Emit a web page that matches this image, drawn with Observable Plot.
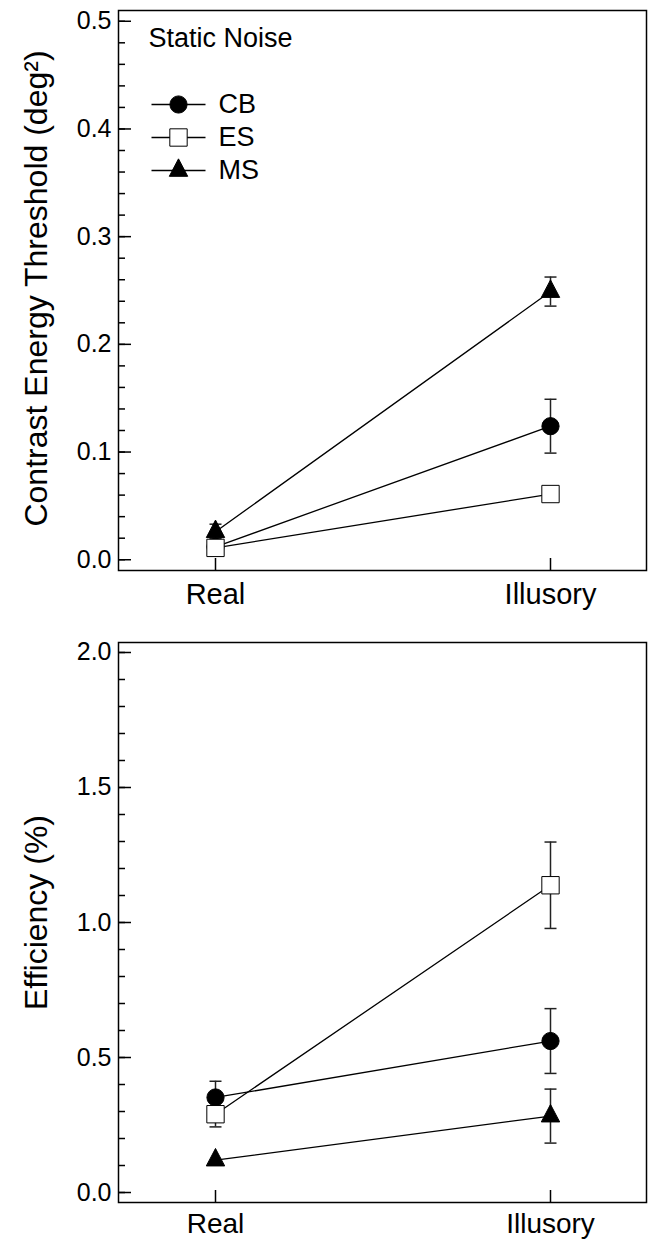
<!DOCTYPE html>
<html>
<head>
<meta charset="utf-8">
<script src="https://cdn.jsdelivr.net/npm/d3@7"></script>
<script src="https://cdn.jsdelivr.net/npm/@observablehq/plot@0.6"></script>
<style>
  html, body { margin: 0; padding: 0; background: #fff; }
  #chart { width: 649px; }
  #chart svg { display: block; }
</style>
</head>
<body>
<div id="chart"></div>
<script>
// ---------- data ----------
const conditions = ["Real", "Illusory"];
const subjects = ["CB", "ES", "MS"];

// Top panel: contrast energy threshold (deg^2), static noise
const thresholdCB = [0.012, 0.124];
const thresholdES = [0.011, 0.061];
const thresholdMS = [0.026, 0.249];
const thresholdErrCB = [0.008, 0.025];
const thresholdErrES = [0, 0];
const thresholdErrMS = [0.007, 0.0135];

// Bottom panel: efficiency (%)
const efficiencyCB = [0.352, 0.561];
const efficiencyES = [0.290, 1.138];
const efficiencyMS = [0.120, 0.283];
const efficiencyErrCB = [0.060, 0.120];
const efficiencyErrES = [0.047, 0.160];
const efficiencyErrMS = [0, 0.100];

const topTicks = [0.0, 0.1, 0.2, 0.3, 0.4, 0.5];
const bottomTicks = [0.0, 0.5, 1.0, 1.5, 2.0];

const topTitle = "Static Noise";
const topLabel = "Contrast Energy Threshold (deg²)";
const bottomLabel = "Efficiency (%)";

// ---------- build rows ----------
function rowsFrom(values, errs) {
  const rows = [];
  subjects.forEach(s => {
    conditions.forEach((c, i) => {
      rows.push({subject: s, cond: c, value: values[s][i], err: errs[s][i]});
    });
  });
  return rows;
}
const topRows = rowsFrom(
  {CB: thresholdCB, ES: thresholdES, MS: thresholdMS},
  {CB: thresholdErrCB, ES: thresholdErrES, MS: thresholdErrMS}
);
const bottomRows = rowsFrom(
  {CB: efficiencyCB, ES: efficiencyES, MS: efficiencyMS},
  {CB: efficiencyErrCB, ES: efficiencyErrES, MS: efficiencyErrMS}
);

// ---------- symbols & styles ----------
const capSym = {draw(ctx, size) { const r = Math.sqrt(size / Math.PI); ctx.moveTo(-r, 0); ctx.lineTo(r, 0); }};
const triSym = {draw(ctx, size) {
  const r = Math.sqrt(size / Math.PI), h = 1.9 * r;
  ctx.moveTo(0, -2 * h / 3); ctx.lineTo(r, h / 3); ctx.lineTo(-r, h / 3); ctx.closePath();
}};
const seriesStyle = {
  CB: {symbol: "circle", r: 8.6, fill: "black", stroke: "black", strokeWidth: 1},
  ES: {symbol: "square", r: 9.8, fill: "white", stroke: "black", strokeWidth: 1},
  MS: {symbol: triSym, r: 9.2, fill: "black", stroke: "black", strokeWidth: 1}
};

const W = 649, H = 620, ML = 118, MR = 3;
const plotW = W - ML - MR;
const FONT = "'Liberation Sans', Arial, Helvetica, sans-serif";

function minorRange(lo, hi, step) {
  const out = [];
  const n = Math.round((hi - lo) / step);
  for (let i = 0; i <= n; i++) out.push(+(lo + i * step).toFixed(4));
  return out;
}

function panel({rows, ticks, minorStep, pad, label, labelDy, marginTop, marginBottom, xPad, xFont, legend}) {
  const lo = ticks[0], hi = ticks[ticks.length - 1];
  const plotH = H - marginTop - marginBottom;
  const minor = minorRange(lo, hi, minorStep);
  const errRows = rows.filter(d => d.err > 0);
  const marks = [
    Plot.tickY(minor, {y: d => d, insetRight: plotW - 7, stroke: "black", strokeWidth: 1.5}),
    Plot.tickY(ticks, {y: d => d, insetRight: plotW - 13, stroke: "black", strokeWidth: 1.5}),
    Plot.tickX(conditions, {x: d => d, insetTop: plotH - 12, stroke: "black", strokeWidth: 1.5}),
    Plot.axisY(ticks, {tickSize: 0, tickPadding: 7, tickFormat: d3.format(".1f"), fontSize: 25, label: null}),
    Plot.axisX({tickSize: 0, tickPadding: xPad, fontSize: xFont, label: null}),
    Plot.frame({stroke: "black", strokeWidth: 1.5}),
    Plot.text([label], {frameAnchor: "left", dx: -72, dy: labelDy, rotate: -90, lineAnchor: "bottom", textAnchor: "middle", fontSize: 32}),
    Plot.ruleX(errRows, {x: "cond", y1: d => d.value - d.err, y2: d => d.value + d.err, stroke: "#222", strokeWidth: 1.5}),
    Plot.dot(errRows, {x: "cond", y: d => d.value + d.err, symbol: capSym, r: 6, fill: "none", stroke: "#222", strokeWidth: 1.5}),
    Plot.dot(errRows, {x: "cond", y: d => d.value - d.err, symbol: capSym, r: 6, fill: "none", stroke: "#222", strokeWidth: 1.5}),
    Plot.line(rows, {x: "cond", y: "value", z: "subject", stroke: "black", strokeWidth: 1.3})
  ];
  subjects.forEach(s => {
    marks.push(Plot.dot(rows.filter(d => d.subject === s), {x: "cond", y: "value", ...seriesStyle[s]}));
  });
  if (legend) {
    marks.push(Plot.text([legend], {frameAnchor: "top-left", dx: 30, dy: 36, lineAnchor: "bottom", textAnchor: "start", fontSize: 27}));
    subjects.forEach((s, i) => {
      const dy = 94 + i * 33;
      marks.push(Plot.dot([s], {frameAnchor: "top-left", dx: 60, dy, symbol: capSym, r: 27, fill: "none", stroke: "black", strokeWidth: 1.3}));
      marks.push(Plot.dot([s], {frameAnchor: "top-left", dx: 60, dy, ...seriesStyle[s]}));
      marks.push(Plot.text([s], {frameAnchor: "top-left", dx: 100, dy, lineAnchor: "middle", textAnchor: "start", fontSize: 27}));
    });
  }
  const span = hi - lo;
  return Plot.plot({
    width: W, height: H,
    marginLeft: ML, marginRight: MR, marginTop, marginBottom,
    style: {fontFamily: FONT, background: "white", color: "black", fontSize: "25px"},
    x: {type: "point", domain: conditions, padding: 0.286},
    y: {domain: [lo - span * pad, hi + span * pad]},
    marks
  });
}

const chart = document.getElementById("chart");
chart.appendChild(panel({rows: topRows, ticks: topTicks, minorStep: 0.02, pad: 0.02,
  label: topLabel, labelDy: -2, marginTop: 10, marginBottom: 50, xPad: 13, xFont: 29, legend: topTitle}));
chart.appendChild(panel({rows: bottomRows, ticks: bottomTicks, minorStep: 0.1, pad: 0.0185,
  label: bottomLabel, labelDy: -10, marginTop: 22, marginBottom: 38, xPad: 11, xFont: 28, legend: null}));
</script>
</body>
</html>
